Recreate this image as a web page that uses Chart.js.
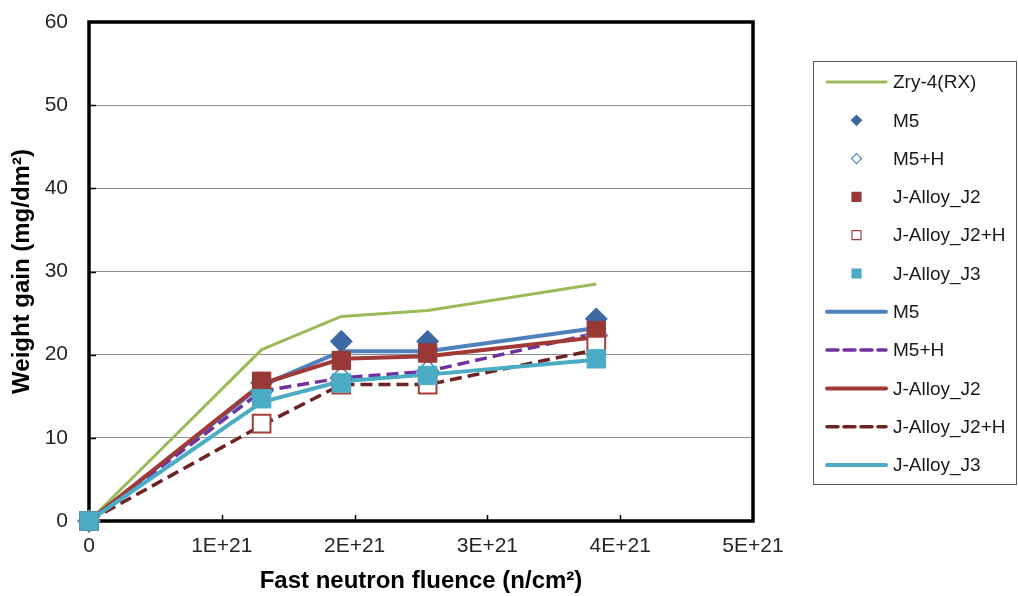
<!DOCTYPE html>
<html>
<head>
<meta charset="utf-8">
<script src="https://cdn.jsdelivr.net/npm/chart.js"></script>
<style>
  html, body { margin: 0; padding: 0; background: #ffffff; }
  #wrap { width: 1018px; height: 596px; }
</style>
</head>
<body>
<div id="wrap"><canvas id="chart" width="1018" height="596"></canvas></div>
<script>
// Fast neutron fluence (n/cm2) at each inspection
const fluence = [0, 1.3e21, 1.9e21, 2.55e21, 3.82e21];

// Measured weight gain (mg/dm2), markers
const m5Points    = [0, 16.6, 21.6, 21.6, 24.3];
const m5hPoints   = [0, 15.6, 17.2, 18.0, 22.3];
const j2Points    = [0, 16.8, 19.3, 20.2, 22.9];
const j2hPoints   = [0, 11.7, 16.4, 16.4, 21.1];
const j3Points    = [0, 14.7, 16.6, 17.5, 19.5];

// Trend lines (mg/dm2)
const zry4Line    = [0, 20.6, 24.6, 25.3, 28.5];
const m5Line      = [0, 16.3, 20.4, 20.4, 23.2];
const m5hLine     = [0, 15.6, 17.2, 18.0, 22.6];
const j2Line      = [0, 16.5, 19.5, 19.8, 22.1];
const j2hLine     = [0, 11.5, 16.4, 16.4, 20.6];
const j3Line      = [0, 14.3, 16.8, 17.6, 19.4];

const seriesNames = ['Zry-4(RX)', 'M5', 'M5+H', 'J-Alloy_J2', 'J-Alloy_J2+H', 'J-Alloy_J3',
                     'M5', 'M5+H', 'J-Alloy_J2', 'J-Alloy_J2+H', 'J-Alloy_J3'];

const xTickLabels = ['0', '1E+21', '2E+21', '3E+21', '4E+21', '5E+21'];
const yTickLabels = ['0', '10', '20', '30', '40', '50', '60'];

const xTitle = 'Fast neutron fluence (n/cm\u00b2)';
const yTitle = 'Weight gain (mg/dm\u00b2)';

const FONT = '"Liberation Sans", Arial, sans-serif';

function pairs(values) {
  return values.map((v, i) => ({ x: fluence[i], y: v }));
}

function lineSet(label, values, color, width, dash, order) {
  return {
    label, data: pairs(values), showLine: true, borderColor: color, backgroundColor: color,
    borderWidth: width, borderDash: dash, pointRadius: 0, pointHoverRadius: 0,
    tension: 0, order, clip: false, borderCapStyle: 'butt', borderJoinStyle: 'round'
  };
}

function markerSet(label, values, style, radius, fill, stroke, bw, order) {
  return {
    label, data: pairs(values), showLine: false, pointStyle: style, pointRadius: radius,
    pointHoverRadius: radius, pointBackgroundColor: fill, pointBorderColor: stroke,
    pointBorderWidth: bw, backgroundColor: fill, borderColor: stroke, order, clip: false
  };
}

const datasets = [
  lineSet(seriesNames[0], zry4Line, '#9bbb59', 3, [], 10),
  markerSet(seriesNames[1], m5Points, 'rectRot', 11, '#3c69a4', '#3c69a4', 1, 4),
  markerSet(seriesNames[2], m5hPoints, 'rectRot', 11, '#ffffff', '#4f81bd', 1.5, 3),
  markerSet(seriesNames[3], j2Points, 'rect', 13, '#993835', '#993835', 1, 2),
  markerSet(seriesNames[4], j2hPoints, 'rect', 12.5, '#ffffff', '#a33e3b', 2, 1),
  markerSet(seriesNames[5], j3Points, 'rect', 13, '#4bacc6', '#4bacc6', 1, 0),
  lineSet(seriesNames[6], m5Line, '#4f81bd', 4, [], 9),
  lineSet(seriesNames[7], m5hLine, '#7030a0', 3.5, [12, 6], 8),
  lineSet(seriesNames[8], j2Line, '#a13a37', 4, [], 7),
  lineSet(seriesNames[9], j2hLine, '#6d2421', 3.5, [12, 6], 6),
  lineSet(seriesNames[10], j3Line, '#4bacc6', 4, [], 5)
];

// Plot frame and inward tick marks, drawn beneath the data
const framePlugin = {
  id: 'frame',
  beforeDatasetsDraw(chart) {
    const { ctx, chartArea: a, scales } = chart;
    ctx.save();
    ctx.strokeStyle = '#000000';
    ctx.lineWidth = 1.5;
    for (let i = 1; i < xTickLabels.length - 1; i++) {
      const px = Math.round(scales.x.getPixelForValue(i * 1e21)) + 0.5;
      ctx.beginPath();
      ctx.moveTo(px, a.bottom);
      ctx.lineTo(px, a.bottom - 6);
      ctx.stroke();
    }
    for (let i = 1; i < yTickLabels.length - 1; i++) {
      const py = Math.round(scales.y.getPixelForValue(i * 10)) + 0.5;
      ctx.beginPath();
      ctx.moveTo(a.left, py);
      ctx.lineTo(a.left + 7, py);
      ctx.stroke();
    }
    ctx.lineWidth = 3.5;
    ctx.lineJoin = 'miter';
    ctx.strokeRect(a.left, a.top, a.right - a.left, a.bottom - a.top);
    ctx.restore();
  }
};

// Boxed legend listing every series in its original order
const legendPlugin = {
  id: 'boxLegend',
  afterDraw(chart) {
    const { ctx } = chart;
    const box = { left: 813.5, top: 61.5, right: 1016.5, bottom: 484.5 };
    const firstY = 82, step = 38.3;
    const sampleL = 825, sampleR = 888, textX = 893;
    ctx.save();
    ctx.fillStyle = '#ffffff';
    ctx.fillRect(box.left, box.top, box.right - box.left, box.bottom - box.top);
    ctx.strokeStyle = '#595959';
    ctx.lineWidth = 1;
    ctx.strokeRect(box.left, box.top, box.right - box.left, box.bottom - box.top);
    chart.data.datasets.forEach((ds, i) => {
      const y = firstY + i * step;
      const cx = (sampleL + sampleR) / 2;
      if (ds.showLine) {
        ctx.save();
        ctx.strokeStyle = ds.borderColor;
        ctx.lineWidth = ds.borderWidth;
        ctx.setLineDash(ds.borderDash && ds.borderDash.length ? [11, 6] : []);
        ctx.lineCap = 'round';
        ctx.beginPath();
        ctx.moveTo(sampleL + 2, y);
        ctx.lineTo(sampleR - 2, y);
        ctx.stroke();
        ctx.restore();
      } else {
        ctx.save();
        ctx.fillStyle = ds.pointBackgroundColor;
        ctx.strokeStyle = ds.pointBorderColor;
        ctx.lineWidth = 1.2;
        ctx.beginPath();
        if (ds.pointStyle === 'rectRot') {
          const r = 5;
          ctx.moveTo(cx, y - r);
          ctx.lineTo(cx + r, y);
          ctx.lineTo(cx, y + r);
          ctx.lineTo(cx - r, y);
          ctx.closePath();
        } else {
          const h = 4.5;
          ctx.rect(cx - h, y - h, 2 * h, 2 * h);
        }
        ctx.fill();
        ctx.stroke();
        ctx.restore();
      }
      ctx.fillStyle = '#1a1a1a';
      ctx.font = '19px ' + FONT;
      ctx.textAlign = 'left';
      ctx.textBaseline = 'middle';
      ctx.fillText(ds.label, textX, y + 1);
    });
    ctx.restore();
  }
};

new Chart(document.getElementById('chart'), {
  type: 'scatter',
  data: { datasets },
  options: {
    responsive: false,
    animation: false,
    events: [],
    layout: { padding: { top: 22, right: 265, bottom: 0, left: 0 } },
    plugins: { legend: { display: false }, tooltip: { enabled: false } },
    scales: {
      x: {
        type: 'linear',
        min: 0, max: 5e21,
        afterBuildTicks(scale) {
          scale.ticks = xTickLabels.map((_, i) => ({ value: i * 1e21 }));
        },
        afterFit(scale) {
          scale.height = 75;
          scale.paddingLeft = 0;
          scale.paddingRight = 0;
        },
        grid: { display: false, drawTicks: false },
        border: { display: false },
        ticks: {
          padding: 13,
          color: '#262626',
          font: { family: FONT, size: 21 },
          maxRotation: 0,
          callback: (v, i) => xTickLabels[i]
        },
        title: {
          display: true, text: xTitle, color: '#000000',
          font: { family: FONT, size: 24, weight: 'bold' },
          padding: { top: 0, bottom: 0 }
        }
      },
      y: {
        min: 0, max: 60,
        afterBuildTicks(scale) {
          scale.ticks = yTickLabels.map((_, i) => ({ value: i * 10 }));
        },
        afterFit(scale) {
          scale.width = 89;
          scale.paddingTop = 0;
          scale.paddingBottom = 0;
        },
        grid: {
          drawTicks: false,
          lineWidth: 1,
          color: (c) => (c.tick && (c.tick.value === 0 || c.tick.value === 60)) ? 'rgba(0,0,0,0)' : '#8c8c8c'
        },
        border: { display: false },
        ticks: {
          padding: 21,
          color: '#262626',
          font: { family: FONT, size: 21 },
          callback: (v, i) => yTickLabels[i]
        },
        title: {
          display: true, text: yTitle, color: '#000000',
          font: { family: FONT, size: 24, weight: 'bold' },
          padding: { top: 8, bottom: 0 }
        }
      }
    }
  },
  plugins: [framePlugin, legendPlugin]
});
</script>
</body>
</html>
